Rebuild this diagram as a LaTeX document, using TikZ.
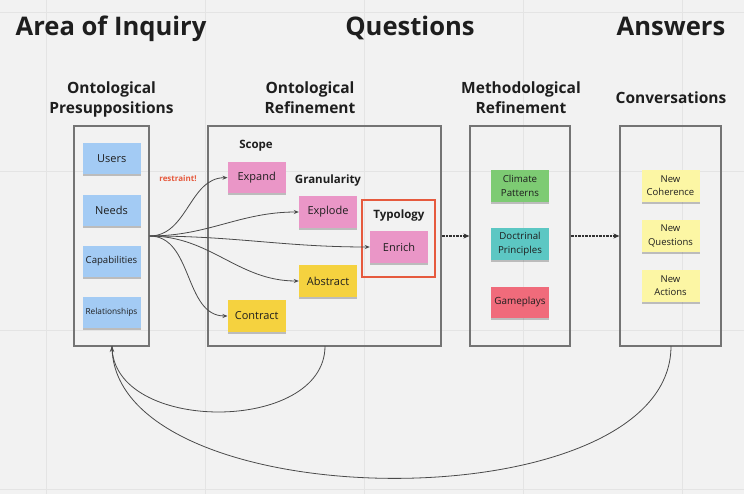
\documentclass[tikz,border=0pt]{standalone}
\usepackage{fontspec}
\setmainfont{Open Sans}
\usetikzlibrary{arrows.meta,shadows}
\definecolor{bg}{HTML}{F2F2F2}
\definecolor{gridc}{HTML}{E4E4E4}
\definecolor{boxc}{HTML}{747474}
\definecolor{txt}{HTML}{1E1E1E}
\definecolor{nblue}{HTML}{A3CBF4}
\definecolor{npink}{HTML}{EA96C7}
\definecolor{nyellow}{HTML}{F5D23F}
\definecolor{ngreen}{HTML}{7DCB73}
\definecolor{nteal}{HTML}{5CC7C3}
\definecolor{nred}{HTML}{F06B7B}
\definecolor{npale}{HTML}{FCF6A4}
\definecolor{redline}{HTML}{E65A3E}
\definecolor{conn}{HTML}{4A4A4A}
\tikzset{
  note/.style={fill=#1, minimum width=58pt, minimum height=31.5pt, inner sep=1pt, align=center,
    text=txt, font=\fontsize{11}{13.3}\selectfont,
    drop shadow={shadow xshift=0pt, shadow yshift=-2pt, opacity=0.22, fill=black}},
  frame/.style={draw=boxc, line width=1.15pt},
  title/.style={anchor=base, inner sep=0pt, text=txt, font=\fontsize{25.6}{30}\bfseries\selectfont},
  subhead/.style={anchor=base, inner sep=0pt, text=txt, align=center, font=\fontsize{15.5}{20.5}\bfseries\selectfont},
  grouphead/.style={anchor=base, inner sep=0pt, text=txt, font=\fontsize{11.5}{14}\bfseries\selectfont},
  fan/.style={draw=conn, line width=0.8pt, -{Stealth[length=5pt,width=4pt]}},
  flow/.style={draw=black!80, line width=1.2pt, dash pattern=on 1pt off 0.4pt, -{Stealth[length=6pt,width=5pt]}},
  back/.style={draw=conn, line width=0.8pt}
}
\begin{document}
\begin{tikzpicture}[x=1pt,y=-1pt]
\fill[bg] (0,0) rectangle (744,494);
\useasboundingbox (0,0) rectangle (744,494);
\foreach \gx in {46,205,364,523,682} \draw[gridc, line width=0.6pt] (\gx,0) -- (\gx,494);
\foreach \gy in {12,171,330,489} \draw[gridc, line width=0.6pt] (0,\gy) -- (744,\gy);

% titles
\node[title] (t1) at (111,36) {Area of Inquiry};
\node[title] (t2) at (410,36) {Questions};
\node[title] (t3) at (671,36) {Answers};

\node[subhead] (s1) at (111.5,114) {Ontological\\Presuppositions};
\node[subhead] (s2) at (310,114) {Ontological\\Refinement};
\node[subhead] (s3) at (521,114) {Methodological\\Refinement};
\node[subhead] (s4) at (671,104) {Conversations};

% frames
\node[frame, minimum width=75pt, minimum height=220pt, inner sep=0pt] (b1) at (111.5,236) {};
\node[frame, minimum width=233pt, minimum height=220pt, inner sep=0pt] (b2) at (324.5,236) {};
\node[frame, minimum width=100pt, minimum height=220pt, inner sep=0pt] (b3) at (520,236) {};
\node[frame, minimum width=101pt, minimum height=220pt, inner sep=0pt] (b4) at (670.5,236) {};
\node[draw=redline, line width=1.4pt, minimum width=73pt, minimum height=77pt, inner sep=0pt] (typ) at (398.5,238.5) {};

% box 1 notes
\node[note=nblue] (users) at (111.7,158.5) {Users};
\node[note=nblue] (needs) at (111.5,210.5) {Needs};
\node[note=nblue, font=\fontsize{9.6}{11}\selectfont] (cap) at (111.5,261.5) {Capabilities};
\node[note=nblue, font=\fontsize{8.3}{10}\selectfont] (rel) at (111.5,312.5) {Relationships};

% box 2
\node[grouphead] (scope) at (256,149) {Scope};
\node[grouphead] (gran) at (328,184) {Granularity};
\node[grouphead] (typo) at (399,218.7) {Typology};
\node[note=npink] (expand) at (256.7,177.7) {Expand};
\node[note=npink] (explode) at (328,212) {Explode};
\node[note=npink] (enrich) at (399,247) {Enrich};
\node[note=nyellow] (abstract) at (328,281) {Abstract};
\node[note=nyellow] (contract) at (256.7,316) {Contract};

% box 3
\node[note=ngreen, font=\fontsize{9.7}{13.3}\selectfont] (climate) at (520,186) {Climate\\Patterns};
\node[note=nteal, font=\fontsize{9.7}{13.3}\selectfont] (doct) at (520,244) {Doctrinal\\Principles};
\node[note=nred, font=\fontsize{9.9}{13.3}\selectfont] (game) at (520,302.3) {Gameplays};

% box 4
\node[note=npale, font=\fontsize{9.5}{13.3}\selectfont] (nc) at (670.5,186) {New\\Coherence};
\node[note=npale, font=\fontsize{9.5}{13.3}\selectfont] (nq) at (670.5,236) {New\\Questions};
\node[note=npale, font=\fontsize{9.5}{13.3}\selectfont] (na) at (670.5,286) {New\\Actions};

% restraint label
\node[anchor=base, inner sep=0pt, text=redline, font=\fontsize{8}{9}\bfseries\selectfont] (restr) at (178,182) {restraint!};

% fan connectors
\coordinate (src) at (b1.east);
\draw[fan] (src) to[out=0,in=180] (expand.west);
\draw[fan] (src) to[out=0,in=180] (explode.west);
\draw[fan] (src) to[out=0,in=180] (enrich.west);
\draw[fan] (src) to[out=0,in=180] (abstract.west);
\draw[fan] (src) to[out=0,in=180] (contract.west);

% flow arrows
\draw[flow] (b2.east) -- (b3.west);
\draw[flow] (b3.east) -- (b4.west);

% feedback curves
\coordinate (b2s) at (325,346);
\coordinate (b4s) at (671,346);
\coordinate (b1s) at (112,346);
\draw[back] (b2s) .. controls (325,434) and (112,434) .. (b1s);
\draw[back] (b4s) .. controls (671,525) and (112,520) .. (b1s);
\draw[conn, -{Stealth[length=6pt,width=4.5pt]}, line width=0.8pt] (112,356) -- (b1s);
\end{tikzpicture}
\end{document}
